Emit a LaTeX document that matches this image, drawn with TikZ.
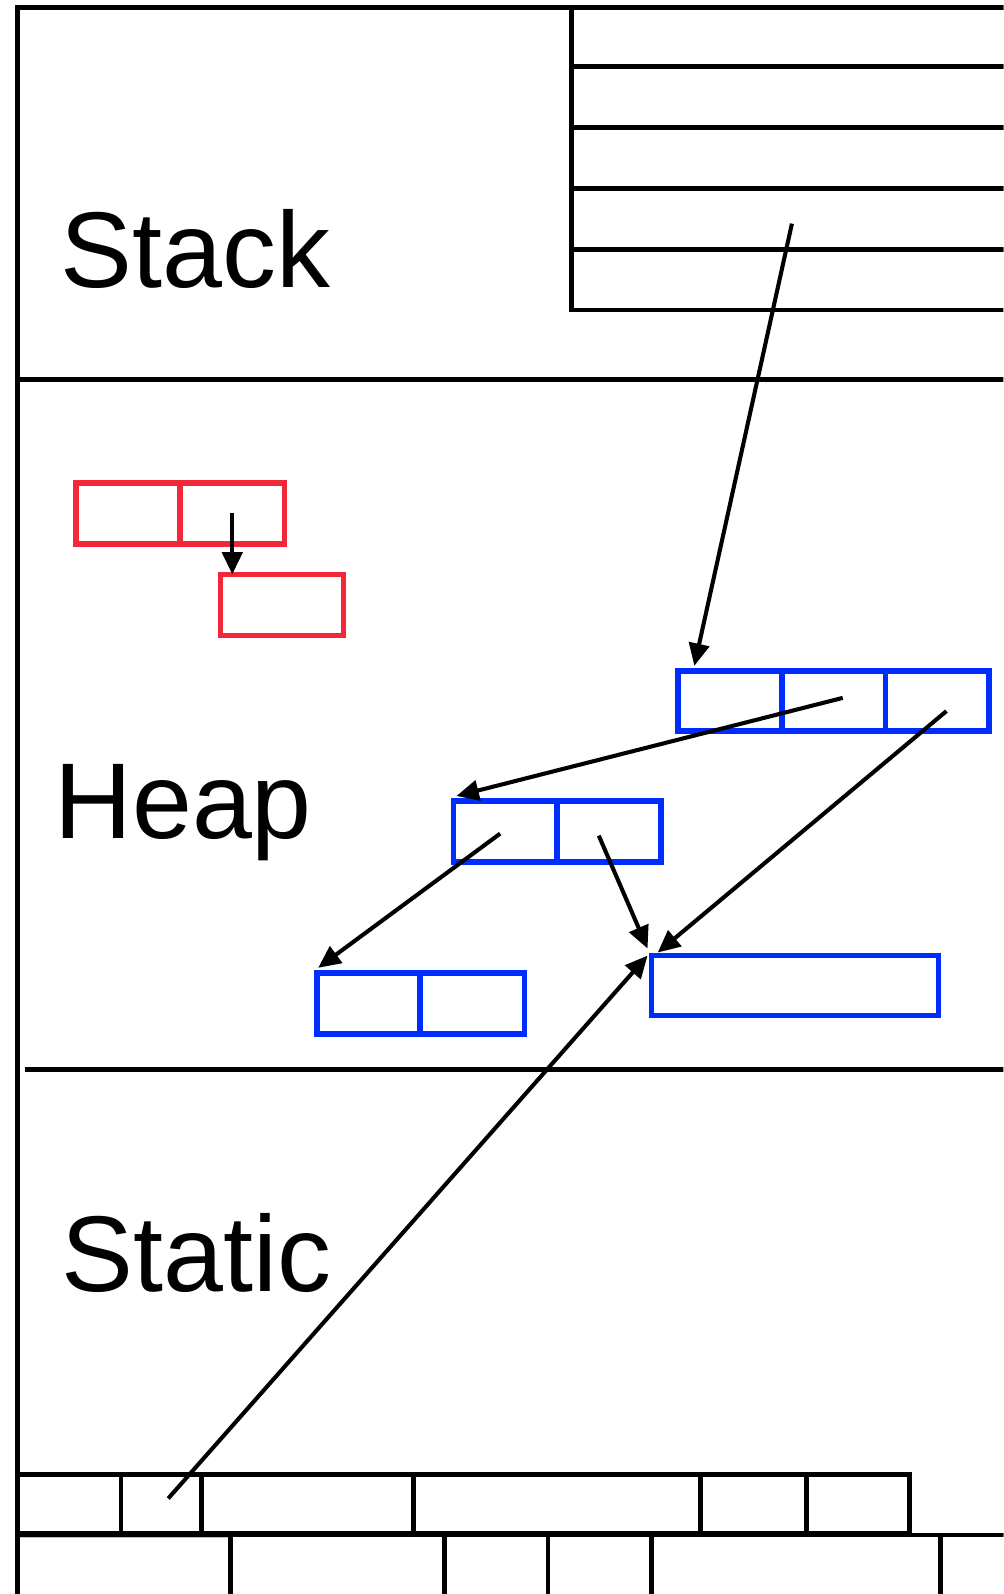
\documentclass[tikz,border=0pt]{standalone}
\usepackage{fontspec}
\setmainfont{Liberation Sans}
\usetikzlibrary{arrows.meta,calc}
\definecolor{cellred}{RGB}{242,40,56}
\definecolor{cellblue}{RGB}{0,45,255}
\begin{document}
\begin{tikzpicture}[x=0.5pt,y=-0.5pt,
  frame/.style={line width=2.4pt,black},
  cellbox/.style={rectangle,inner sep=0pt,outer sep=0pt,anchor=north west},
  redcell/.style={cellbox,draw=cellred,line width=2.7pt},
  bluecell/.style={cellbox,draw=cellblue,line width=2.7pt},
  blackcell/.style={cellbox,draw=black,line width=2.4pt},
  greycell/.style={cellbox,draw=black!25,line width=0.8pt},
  ptr/.style={line width=2pt,-{Triangle[length=11pt,width=10pt]}},
  label/.style={anchor=base west,inner sep=0pt,font=\fontsize{53}{62}\selectfont}]
\useasboundingbox (0,0) rectangle (987,1568);
\clip (0,0) rectangle (987,1568);
\fill[white] (0,0) rectangle (987,1568);

% outer frame and region dividers
\coordinate (ftl) at (17,7);
\coordinate (fbl) at (17,1600);
\coordinate (ftr) at (1010,7);
\draw[frame] (fbl) -- (ftl) -- (ftr);
\coordinate (d1l) at (17,373);
\coordinate (d1r) at (1010,373);
\draw[frame] (d1l) -- (d1r);
\coordinate (d2l) at (25,1052);
\coordinate (d2r) at (1010,1052);
\draw[frame] (d2l) -- (d2r);

% labels
\node[label] (stack) at (59,283) {Stack};
\node[label] (heap) at (53,825) {Heap};
\node[label] (static) at (60,1270) {Static};

% stack frames
\node[blackcell,minimum width=448*0.5pt,minimum height=58*0.5pt] (s1) at (562,7) {};
\node[blackcell,minimum width=448*0.5pt,minimum height=60*0.5pt] (s2) at (562,65) {};
\node[blackcell,minimum width=448*0.5pt,minimum height=60*0.5pt] (s3) at (562,125) {};
\node[blackcell,minimum width=448*0.5pt,minimum height=60*0.5pt] (s4) at (562,185) {};
\node[blackcell,minimum width=448*0.5pt,minimum height=60*0.5pt] (s5) at (562,245) {};

% red cells
\node[redcell,minimum width=102*0.5pt,minimum height=60*0.5pt] (r1) at (75,475) {};
\node[redcell,minimum width=103*0.5pt,minimum height=60*0.5pt] (r2) at (177,475) {};
\node[redcell,minimum width=121*0.5pt,minimum height=60*0.5pt] (r3) at (217,565) {};

% blue cells
\node[bluecell,minimum width=102*0.5pt,minimum height=59*0.5pt] (b1) at (667,660) {};
\node[bluecell,minimum width=102*0.5pt,minimum height=59*0.5pt] (b2) at (769,660) {};
\node[bluecell,minimum width=102*0.5pt,minimum height=59*0.5pt] (b3) at (871,660) {};
\node[bluecell,minimum width=102*0.5pt,minimum height=60*0.5pt] (m1) at (446,788) {};
\node[bluecell,minimum width=102*0.5pt,minimum height=60*0.5pt] (m2) at (548,788) {};
\node[bluecell,minimum width=101*0.5pt,minimum height=60*0.5pt] (p1) at (312,957) {};
\node[bluecell,minimum width=103*0.5pt,minimum height=60*0.5pt] (p2) at (413,957) {};
\node[bluecell,minimum width=282*0.5pt,minimum height=59*0.5pt] (lg) at (641,940) {};

% static rows
\node[greycell,minimum width=210*0.5pt,minimum height=80*0.5pt] (e1) at (17,1512) {};
\node[blackcell,minimum width=210*0.5pt,minimum height=80*0.5pt] (e2) at (227,1510) {};
\node[blackcell,minimum width=102*0.5pt,minimum height=80*0.5pt] (e3) at (437,1510) {};
\node[blackcell,minimum width=102*0.5pt,minimum height=80*0.5pt] (e4) at (539,1510) {};
\node[blackcell,minimum width=284*0.5pt,minimum height=80*0.5pt] (e5) at (641,1510) {};
\node[blackcell,minimum width=100*0.5pt,minimum height=80*0.5pt] (e6) at (925,1510) {};
\coordinate (rowl) at (17,1510);
\coordinate (rowr) at (1010,1510);
\draw[frame] (rowl) -- (rowr);
\node[blackcell,minimum width=102*0.5pt,minimum height=58*0.5pt] (c1) at (17,1450) {};
\node[blackcell,minimum width=79*0.5pt,minimum height=58*0.5pt] (c2) at (119,1450) {};
\node[blackcell,minimum width=209*0.5pt,minimum height=58*0.5pt] (c3) at (198,1450) {};
\node[blackcell,minimum width=282*0.5pt,minimum height=58*0.5pt] (c4) at (407,1450) {};
\node[blackcell,minimum width=104*0.5pt,minimum height=58*0.5pt] (c5) at (689,1450) {};
\node[blackcell,minimum width=102*0.5pt,minimum height=58*0.5pt] (c6) at (793,1450) {};
\draw[frame] (ftl) -- (fbl);

% pointers
\draw[ptr] (r2.center) -- ($(r2.center)!1!(r2.center |- r3.north)$);
\draw[ptr] ($(s4.center)+(-7,5)$) -- ($(b1.north west)+(16,-5)$);
\draw[ptr] ($(b2.center)+(9,-3)$) -- ($(m1.north west)+(3,-5)$);
\draw[ptr] ($(b3.center)+(9,10)$) -- ($(lg.north west)+(6,-3)$);
\draw[ptr] ($(m1.center)+(-5,2)$) -- ($(p1.north west)+(1,-5)$);
\draw[ptr] ($(m2.center)+(-10,4)$) -- ($(lg.north west)+(-4,-7)$);
\draw[ptr] ($(c2.center)+(7,-5)$) -- ($(lg.north west)+(-4,0)$);
\end{tikzpicture}
\end{document}
